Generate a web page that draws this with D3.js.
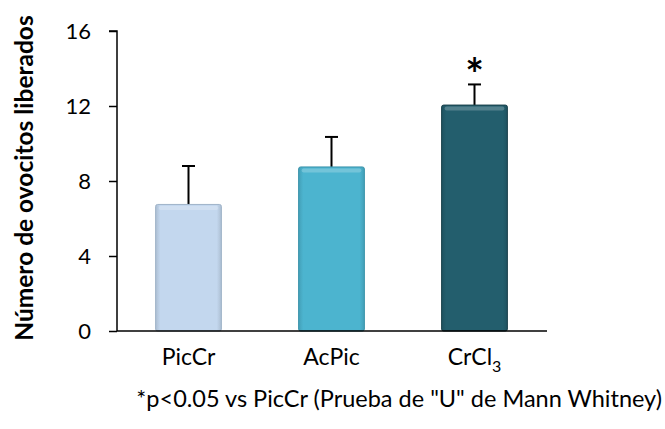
<!DOCTYPE html>
<html><head><meta charset="utf-8">
<script src="https://cdn.jsdelivr.net/npm/d3@7"></script>
<style>body{margin:0;background:#fff}svg{display:block}text{font-family:Lato,"Open Sans",sans-serif;fill:#000}</style>
</head><body>
<svg id="c" width="665" height="429"></svg>
<script>
const categories = ["PicCr", "AcPic", "CrCl3"];
const means = [6.75, 8.75, 12.05];
const errors = [2.05, 1.6, 1.1];
const significant = [false, false, true];
const yTicks = [0, 4, 8, 12, 16];
const barColors = ["#c3d7ee", "#4cb4cf", "#235e6d"];
const barEdges = ["#9fb3c8", "#3a93aa", "#183f49"];

const svg = d3.select("#c");
const x = d3.scaleBand().domain(categories).range([117, 546]).paddingInner(0.54).paddingOuter(0.27);
const y = d3.scaleLinear().domain([0, 16]).range([331, 31]);

const defs = svg.append("defs");
barColors.forEach((c, i) => {
  const g = defs.append("linearGradient").attr("id", "g" + i).attr("x1", 0).attr("x2", 1).attr("y1", 0).attr("y2", 0);
  g.append("stop").attr("offset", "0%").attr("stop-color", d3.color(c).darker(0.35));
  g.append("stop").attr("offset", "7%").attr("stop-color", c);
  g.append("stop").attr("offset", "93%").attr("stop-color", c);
  g.append("stop").attr("offset", "100%").attr("stop-color", d3.color(c).darker(0.35));
});

const eg = svg.append("g");
categories.forEach((c, i) => {
  const cx = x(c) + x.bandwidth() / 2;
  eg.append("line").attr("x1", cx).attr("x2", cx).attr("y1", y(means[i])).attr("y2", y(means[i] + errors[i])).attr("stroke", "#000").attr("stroke-width", 2);
  eg.append("line").attr("x1", cx - 6.5).attr("x2", cx + 6.5).attr("y1", y(means[i] + errors[i])).attr("y2", y(means[i] + errors[i])).attr("stroke", "#000").attr("stroke-width", 2);
});

const bg = svg.append("g");
categories.forEach((c, i) => {
  bg.append("rect").attr("x", x(c)).attr("y", y(means[i])).attr("width", x.bandwidth()).attr("height", y(0) - y(means[i]))
    .attr("fill", `url(#g${i})`).attr("stroke", barEdges[i]).attr("stroke-width", 1).attr("rx", 2);
  bg.append("rect").attr("x", x(c) + 3).attr("y", y(means[i]) + 1.5).attr("width", x.bandwidth() - 6).attr("height", 4)
    .attr("fill", "#fff").attr("opacity", 0.22).attr("rx", 2);
  if (significant[i]) {
    svg.append("text").attr("x", x(c) + x.bandwidth() / 2).attr("y", y(means[i] + errors[i]) + 6)
      .attr("text-anchor", "middle").attr("font-size", 44).attr("font-weight", "bold").text("*");
  }
});

const ya = svg.append("g").attr("transform", "translate(117,0)")
  .call(d3.axisLeft(y).tickValues(yTicks).tickSize(8).tickPadding(18));
ya.select(".domain").attr("stroke", "#000").attr("stroke-width", 1.5).attr("d", `M-8,${y(16)}H0V${y(0)}`);
ya.selectAll(".tick line").attr("stroke", "#000").attr("stroke-width", 1.5);
ya.selectAll(".tick text").attr("font-size", 22).attr("font-family", "Lato,'Open Sans',sans-serif").attr("fill", "#000");

svg.append("line").attr("x1", 117).attr("x2", 547).attr("y1", y(0)).attr("y2", y(0)).attr("stroke", "#000").attr("stroke-width", 1.5);

categories.forEach((c, i) => {
  const t = svg.append("text").attr("x", x(c) + x.bandwidth() / 2).attr("y", 365).attr("text-anchor", "middle").attr("font-size", 23);
  if (c === "CrCl3") {
    t.append("tspan").text("CrCl");
    t.append("tspan").attr("font-size", 16).attr("dy", 7).text("3");
  } else t.text(c);
});

svg.append("text").attr("transform", "translate(33,178) rotate(-90)").attr("text-anchor", "middle")
  .attr("font-size", 24.5).attr("font-weight", "bold").text("Número de ovocitos liberados");

svg.append("text").attr("x", 662).attr("y", 407).attr("text-anchor", "end").attr("font-size", 23.5)
  .text('*p<0.05 vs PicCr (Prueba de "U" de Mann Whitney)');
</script>
</body></html>
